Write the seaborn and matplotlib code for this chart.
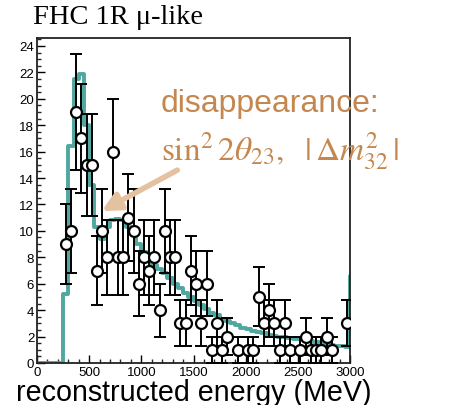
import numpy as np
import pandas as pd
import matplotlib
matplotlib.use("Agg")
import matplotlib.pyplot as plt
import seaborn as sns
from matplotlib.ticker import MultipleLocator

# ---- data -------------------------------------------------------------
# MC prediction in 50 MeV bins, 0 .. 3050 MeV (last bin lies beyond the axis)
bin_width = 50
mc_pred = [0, 0, 0, 0, 0,
           5.2, 16.4, 21.5, 21.9, 18.0, 13.5, 10.3, 9.4, 10.3, 10.8,
           10.9, 10.8, 10.3, 9.8, 9.0, 8.4, 7.9, 7.4, 7.1, 6.8,
           6.4, 6.0, 5.7, 5.3, 5.0, 4.7, 4.4, 4.1, 3.8, 3.6,
           3.35, 3.15, 3.0, 2.85, 2.65, 2.55, 2.45, 2.35, 2.25, 2.1,
           2.05, 2.0, 1.95, 1.9, 1.85, 1.8, 1.75, 1.7, 1.6, 1.5,
           1.45, 1.4, 1.3, 1.25, 1.2,
           6.6]

# observed events (bin centre in MeV, count)
data_energy = [275, 325, 375, 425, 475, 525, 575, 625, 675, 725,
               775, 825, 875, 925, 975, 1025, 1075, 1125, 1175, 1225,
               1275, 1325, 1375, 1425, 1475, 1525, 1575, 1625, 1675, 1725,
               1775, 1825, 1925, 2025, 2075, 2125, 2175, 2225, 2275, 2325,
               2375, 2425, 2525, 2575, 2625, 2675, 2725, 2775, 2825, 2975]
data_count = [9, 10, 19, 17, 15, 15, 7, 10, 8, 16,
              8, 8, 11, 10, 6, 8, 7, 8, 4, 10,
              8, 8, 3, 3, 7, 6, 3, 6, 1, 3,
              1, 2, 1, 1, 1, 5, 3, 4, 3, 1,
              3, 1, 1, 2, 1, 1, 1, 2, 1, 3]

x_ticks = [0, 500, 1000, 1500, 2000, 2500, 3000]
y_ticks = list(range(0, 25, 2))

title_text = "FHC 1R \u03bc-like"
xlabel_text = "reconstructed energy (MeV)"
note_line1 = "disappearance:"
note_line2 = r"$\sin^2 2\theta_{23},\ \ |\,\Delta m^2_{32}\,|$"

# ---- styling ----------------------------------------------------------
sns.set_theme(style="ticks")
plt.rcParams["font.family"] = ["Liberation Sans", "DejaVu Sans"]
plt.rcParams["mathtext.fontset"] = "stix"

teal = "#4fa79f"
tan = "#c4874f"
arrow_col = "#e4c19f"

fig = plt.figure(figsize=(4.53, 4.06), dpi=100)
ax = fig.add_axes([37 / 453, 1 - 364 / 406, 313 / 453, 325 / 406])

n_bins = len(mc_pred)
mc_df = pd.DataFrame({"energy": np.arange(n_bins) * bin_width + bin_width / 2,
                      "pred": mc_pred})
sns.histplot(data=mc_df, x="energy", weights="pred", binwidth=bin_width,
             binrange=(0, n_bins * bin_width),
             element="step", fill=False, color=teal, linewidth=2.8, ax=ax,
             zorder=2)

data_df = pd.DataFrame({"energy": data_energy, "count": data_count})
ax.errorbar(data_df["energy"], data_df["count"],
            yerr=np.sqrt(data_df["count"]), fmt="none",
            ecolor="black", elinewidth=1.4, capsize=4.3, capthick=1.4,
            zorder=3)
sns.scatterplot(data=data_df, x="energy", y="count", marker="o", s=62,
                facecolor="white", edgecolor="black", linewidth=1.6,
                ax=ax, zorder=4)

ax.set_xlim(0, 3000)
ax.set_ylim(0, 24.6)
ax.set_xticks(x_ticks)
ax.set_xticklabels([str(t) for t in x_ticks])
ax.set_yticks(y_ticks)
ax.set_yticklabels([str(t) for t in y_ticks])
ax.xaxis.set_minor_locator(MultipleLocator(100))
ax.yaxis.set_minor_locator(MultipleLocator(0.5))
ax.tick_params(axis="both", which="major", direction="in", length=6,
               width=1.0, labelsize=9.5, pad=2, colors="black",
               top=False, right=False)
ax.tick_params(axis="both", which="minor", direction="in", length=3,
               width=1.0, top=False, right=False)
ax.set_xlabel("")
ax.set_ylabel("")
for sp in ax.spines.values():
    sp.set_visible(True)
    sp.set_linewidth(1.3)
    sp.set_color("#222222")

ax.annotate("", xy=(620, 11.5), xytext=(1345, 14.6),
            arrowprops=dict(arrowstyle="-|>,head_length=0.9,head_width=0.45",
                            color=arrow_col, lw=4, shrinkA=0, shrinkB=0),
            zorder=5)

fig.text(33 / 453, 1 - 18 / 406, title_text, family="Liberation Serif",
         fontsize=20.5, va="center", ha="left", color="black")
fig.text(16 / 453, 1 - 393 / 406, xlabel_text, family="Liberation Sans",
         fontsize=20.6, va="center", ha="left", color="black")
fig.text(161 / 453, 1 - 104 / 406, note_line1, family="Liberation Sans",
         fontsize=23, va="center", ha="left", color=tan)
fig.text(161 / 453, 1 - 151 / 406, note_line2, fontsize=24, va="center",
         ha="left", color=tan)

fig.savefig("out.png", dpi=100)
